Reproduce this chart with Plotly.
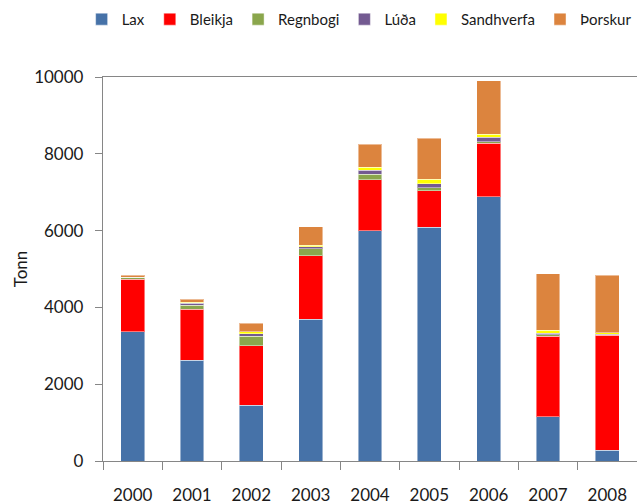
import plotly.graph_objects as go

years = ["2000", "2001", "2002", "2003", "2004", "2005", "2006", "2007", "2008"]
lax = [3370, 2630, 1450, 3690, 6000, 6090, 6880, 1150, 280]
bleikja = [1360, 1320, 1545, 1655, 1325, 945, 1400, 2105, 2990]
regnbogi = [60, 105, 260, 185, 140, 80, 35, 30, 15]
luda = [0, 50, 60, 50, 110, 110, 115, 40, 15]
sandhverfa = [0, 25, 45, 45, 80, 115, 80, 85, 40]
thorskur = [45, 80, 225, 475, 590, 1060, 1390, 1460, 1500]

series = [
    ("Lax", lax, "#4672A8"),
    ("Bleikja", bleikja, "#FF0000"),
    ("Regnbogi", regnbogi, "#8AA64C"),
    ("Lúða", luda, "#735A91"),
    ("Sandhverfa", sandhverfa, "#FFFF00"),
    ("Þorskur", thorskur, "#DC843E"),
]

FONT = "Lato"
TXT = "#1a1a1a"
AX = "#868686"

fig = go.Figure()
for name, vals, col in series:
    fig.add_trace(go.Bar(
        x=years, y=vals, name=name,
        marker=dict(color=col, line=dict(color="rgba(255,255,255,0.45)", width=1)),
    ))

fig.update_layout(
    width=637, height=504,
    barmode="stack", bargap=0.6,
    paper_bgcolor="white", plot_bgcolor="white",
    margin=dict(l=103, r=0, t=77, b=43, autoexpand=False),
    font=dict(family=FONT, size=17, color=TXT),
    showlegend=True,
    legend=dict(
        orientation="h", x=-0.04, xanchor="left", y=1.15, yanchor="middle",
        font=dict(family=FONT, size=15, color=TXT),
        itemwidth=30, tracegroupgap=0, traceorder="normal",
        bgcolor="rgba(0,0,0,0)",
    ),
    xaxis=dict(
        type="category", showline=True, linecolor=AX, linewidth=1.3,
        mirror=True, automargin=False,
        ticks="outside", tickson="boundaries", ticklen=8, tickcolor=AX,
        showgrid=False, ticklabelstandoff=18,
        tickfont=dict(family=FONT, size=17, color=TXT),
    ),
    yaxis=dict(
        range=[0, 10000], dtick=2000, tickformat="d", showline=True,
        linecolor=AX, linewidth=1.3, automargin=False,
        ticks="outside", ticklen=7, tickcolor=AX, showgrid=False, zeroline=False,
        tickfont=dict(family=FONT, size=17, color=TXT),
        ticklabelstandoff=8,
        title=dict(text="Tonn", font=dict(family=FONT, size=17, color=TXT), standoff=2),
    ),
)

fig.write_html(
    "out.html",
    config={"displayModeBar": False},
    post_script="document.body.style.margin='0';document.body.style.overflow='hidden';",
)
